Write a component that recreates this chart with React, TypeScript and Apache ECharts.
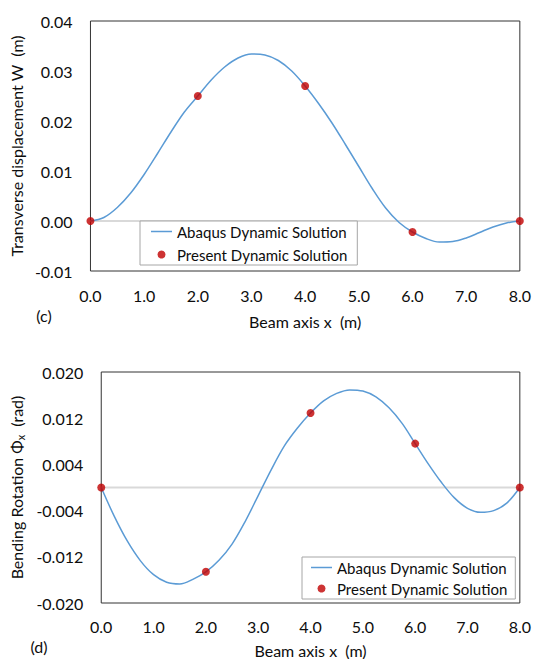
import React, { useEffect, useRef } from 'react';
import * as echarts from 'echarts';

// ---------- data ----------
const X_POS = [0, 0.25, 0.5, 0.75, 1, 1.25, 1.5, 1.75, 2, 2.25, 2.5, 2.75, 3, 3.25, 3.5, 3.75, 4, 4.25, 4.5, 4.75, 5, 5.25, 5.5, 5.75, 6, 6.25, 6.5, 6.75, 7, 7.25, 7.5, 7.75, 8];
const W_ABAQUS = [0, 0.0007, 0.0027, 0.0056, 0.0093, 0.0135, 0.0178, 0.0218, 0.025, 0.0282, 0.0308, 0.0326, 0.0334, 0.0332, 0.0321, 0.03, 0.027, 0.0235, 0.0196, 0.0153, 0.0109, 0.0065, 0.0026, -0.0003, -0.0022, -0.0035, -0.0042, -0.0041, -0.0034, -0.0023, -0.0012, -0.0004, 0];
const PHI_ABAQUS = [0, -0.005, -0.0093, -0.0127, -0.0151, -0.0164, -0.0167, -0.0159, -0.0146, -0.0126, -0.0098, -0.0059, -0.0014, 0.0031, 0.0072, 0.0103, 0.0129, 0.015, 0.0163, 0.0169, 0.0167, 0.0157, 0.0138, 0.0111, 0.0076, 0.0041, 0.0009, -0.0018, -0.0036, -0.0043, -0.004, -0.0027, 0];
const X_PRESENT = [0, 2, 4, 6, 8];
const W_PRESENT = [0, 0.025, 0.027, -0.0022, 0];
const PHI_PRESENT = [0, -0.0146, 0.0129, 0.0076, 0];

const X_MIN = 0;
const X_MAX = 8;
const X_STEP = 1;
const W_MIN = -0.01;
const W_MAX = 0.04;
const W_STEP = 0.01;
const PHI_MIN = -0.02;
const PHI_MAX = 0.02;
const PHI_STEP = 0.008;

const NAME_LINE = 'Abaqus Dynamic Solution';
const NAME_DOTS = 'Present Dynamic Solution';
const X_TITLE = 'Beam axis x  (m)';
const W_TITLE = 'Transverse displacement W  (m)';
const PANEL_C = '(c)';
const PANEL_D = '(d)';

const FONT = 'Lato, "Open Sans", sans-serif';
const TXT = '#0d0d0d';
const BLUE = '#5B9BD5';
const RED = '#C00000';
const ZERO = '#d9d9d9';

const zip = (xs: number[], ys: number[]) => xs.map((x, i) => [x, ys[i]]);

export default function App() {
  const ref = useRef<HTMLDivElement>(null);
  useEffect(() => {
    const chart = echarts.init(ref.current!, null, { renderer: 'svg' });
    const tick = { fontSize: 16, fontFamily: FONT, color: TXT };
    const title = { fontSize: 16, fontFamily: FONT, color: TXT };
    const legTxt = { fontSize: 15, fontFamily: FONT, color: TXT };

    const xAxis = (gi: number, margin: number, gap: number) => ({
      type: 'value', gridIndex: gi, min: X_MIN, max: X_MAX, interval: X_STEP,
      axisLine: { show: false }, axisTick: { show: false }, splitLine: { show: false },
      axisLabel: { ...tick, margin, formatter: (v: number) => v.toFixed(1) },
      name: X_TITLE, nameLocation: 'middle', nameGap: gap, nameTextStyle: { ...title },
    });

    const legend = (left: number, top: number, gap: number, padding: number[]) => ({
      orient: 'vertical', left, top, itemGap: gap, padding,
      itemWidth: 21, itemHeight: 8, selectedMode: false,
      borderColor: '#a6a6a6', borderWidth: 1, backgroundColor: '#fff',
      textStyle: { ...legTxt },
      data: [
        { name: NAME_LINE, icon: 'path://M0,0 H28 V2 H0 Z', itemStyle: { color: BLUE } },
        { name: NAME_DOTS, icon: 'circle' },
      ],
    });

    const seriesFor = (gi: number, ys: number[], dots: number[]) => [
      {
        type: 'line', name: 'zero' + gi, xAxisIndex: gi, yAxisIndex: gi, silent: true,
        data: [[X_MIN, 0], [X_MAX, 0]], symbol: 'none', z: 1,
        lineStyle: { color: ZERO, width: 2 },
      },
      {
        type: 'line', name: NAME_LINE, xAxisIndex: gi, yAxisIndex: gi,
        data: zip(X_POS, ys), symbol: 'none', smooth: 0.35, z: 2,
        lineStyle: { color: BLUE, width: 1.5 }, itemStyle: { color: BLUE },
      },
      {
        type: 'scatter', name: NAME_DOTS, xAxisIndex: gi, yAxisIndex: gi,
        data: zip(X_PRESENT, dots), symbol: 'circle', symbolSize: 8, z: 3,
        itemStyle: { color: RED },
      },
    ];

    const option: any = {
      animation: false,
      backgroundColor: '#fff',
      textStyle: { fontFamily: FONT },
      grid: [
        { left: 90, top: 21, width: 432, height: 250, show: true, borderColor: '#333', borderWidth: 1 },
        { left: 89, top: 372, width: 431, height: 231, show: true, borderColor: '#333', borderWidth: 1 },
      ],
      xAxis: [xAxis(0, 16, 42), xAxis(1, 15, 39)],
      yAxis: [
        {
          type: 'value', gridIndex: 0, min: W_MIN, max: W_MAX, interval: W_STEP,
          axisLine: { show: false }, axisTick: { show: false }, splitLine: { show: false },
          axisLabel: { ...tick, margin: 18, formatter: (v: number) => v.toFixed(2) },
          name: W_TITLE, nameLocation: 'middle', nameGap: 55, nameTextStyle: { ...title },
        },
        {
          type: 'value', gridIndex: 1, min: PHI_MIN, max: PHI_MAX, interval: PHI_STEP,
          axisLine: { show: false }, axisTick: { show: false }, splitLine: { show: false },
          axisLabel: { ...tick, margin: 18, formatter: (v: number) => v.toFixed(3) },
          name: '{a|Bending Rotation Φ}{s|x}{a|  (rad)}', nameLocation: 'middle', nameGap: 61,
          nameTextStyle: {
            ...title,
            rich: {
              a: { fontSize: 16, fontFamily: FONT, color: TXT },
              s: { fontSize: 11, fontFamily: FONT, color: TXT, verticalAlign: 'bottom', padding: [8, 0, 0, 0] },
            },
          },
        },
      ],
      legend: [legend(140, 221, 8, [3, 10, 3, 11]), legend(302, 557, 6, [3, 8, 3, 9])],
      graphic: [
        { type: 'text', x: 44, y: 315, style: { text: PANEL_C, fontSize: 16, fontFamily: FONT, fill: TXT, align: 'center', verticalAlign: 'middle' } },
        { type: 'text', x: 39, y: 646, style: { text: PANEL_D, fontSize: 16, fontFamily: FONT, fill: TXT, align: 'center', verticalAlign: 'middle' } },
      ],
      series: [...seriesFor(0, W_ABAQUS, W_PRESENT), ...seriesFor(1, PHI_ABAQUS, PHI_PRESENT)],
    };
    chart.setOption(option);
    return () => chart.dispose();
  }, []);
  return (
    <div
      ref={ref}
      style={{ position: 'absolute', left: 0, top: 0, width: 534, height: 659, background: '#fff' }}
    />
  );
}
